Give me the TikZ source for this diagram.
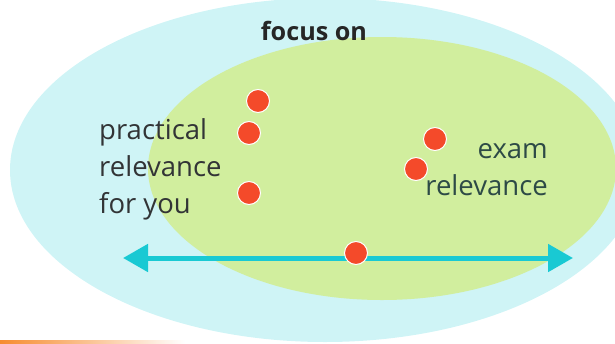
\documentclass[tikz,border=0pt]{standalone}
\usepackage{fontspec}
\setmainfont{Open Sans}
\usetikzlibrary{arrows.meta}
\definecolor{outerblue}{RGB}{207,244,246}
\definecolor{innergreen}{RGB}{209,238,158}
\definecolor{dotred}{RGB}{244,74,42}
\definecolor{axiscyan}{RGB}{25,201,211}
\definecolor{textgrey}{RGB}{50,52,54}
\definecolor{textslate}{RGB}{45,74,70}
\definecolor{accentorange}{RGB}{246,140,48}
\tikzset{
  point/.style={circle, fill=dotred, draw=white, line width=1pt, minimum size=23pt, inner sep=0pt},
  label text/.style={inner sep=0pt, font=\fontsize{27.5}{37}\selectfont},
  axis/.style={axiscyan, line width=5pt, {Triangle[length=25pt,width=27pt]}-{Triangle[length=25pt,width=27pt]}},
}
\begin{document}
\begin{tikzpicture}[x=1pt, y=-1pt]
  \useasboundingbox (0,0) rectangle (615,343);
  \clip (0,0) rectangle (615,343);
  % nested fields
  \fill[outerblue] (325,170) ellipse [x radius=315pt, y radius=172pt];
  \fill[innergreen] (382,168.5) ellipse [x radius=234pt, y radius=131.5pt];
  % accent rule along the lower edge
  \shade[left color=accentorange, right color=white] (0,340.5) rectangle (185,343);
  % headings (multi-line nodes sit on the baseline of their last line)
  \node[inner sep=0pt, font=\fontsize{25.2}{30}\selectfont\bfseries, text=black!85, anchor=base] (focus) at (314,40) {focus on};
  \node[label text, text=textgrey, align=left, anchor=base west] (practical) at (99,213) {practical\\relevance\\for you};
  \node[label text, text=textslate, align=right, anchor=base east] (exam) at (548,195) {exam\\relevance};
  % scale with its two ends
  \coordinate (left end) at (123,258);
  \coordinate (right end) at (573,258);
  \draw[axis] (left end) -- (right end);
  % points
  \node[point] (p1) at (258,101) {};
  \node[point] (p2) at (249,133) {};
  \node[point] (p3) at (249,193) {};
  \node[point] (p4) at (435,139) {};
  \node[point] (p5) at (416,169) {};
  \node[point] (p6) at (356,253) {};
\end{tikzpicture}
\end{document}
